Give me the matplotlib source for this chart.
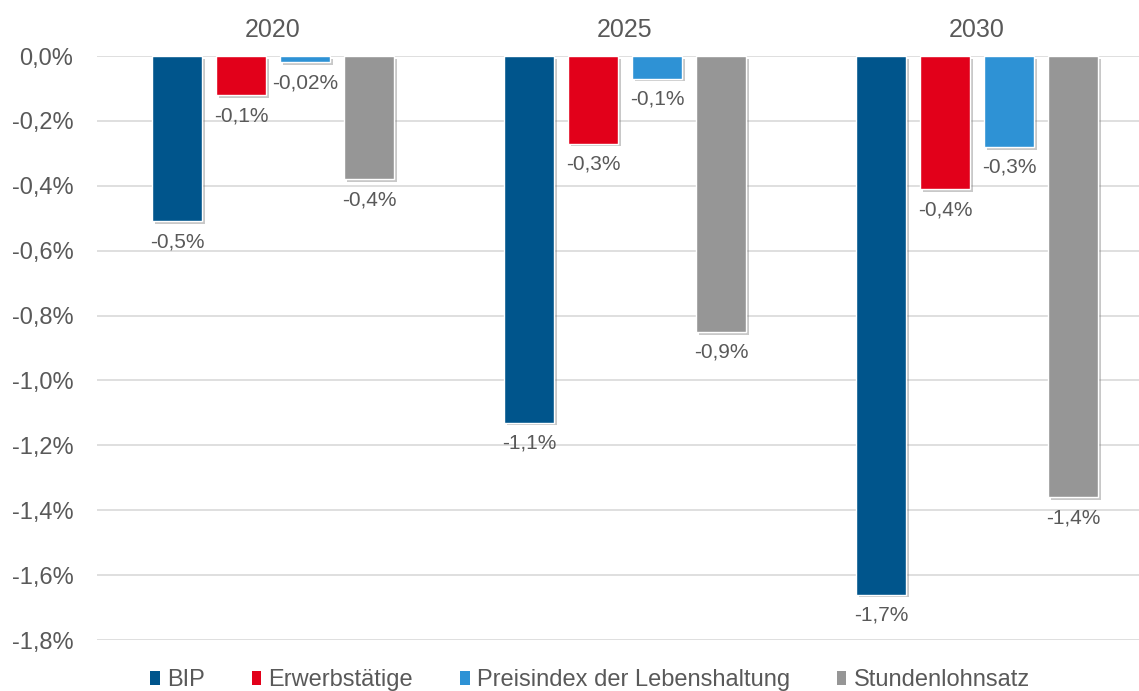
import numpy as np
import matplotlib.pyplot as plt
import matplotlib.patheffects as pe
from matplotlib.patches import Patch

plt.rcParams['font.family'] = ['Liberation Sans', 'DejaVu Sans']

# Data
years = ['2020', '2025', '2030']
series = ['BIP', 'Erwerbstätige', 'Preisindex der Lebenshaltung', 'Stundenlohnsatz']
bip = [-0.51, -1.13, -1.66]
erwerb = [-0.12, -0.27, -0.41]
preis = [-0.02, -0.07, -0.28]
lohn = [-0.38, -0.85, -1.36]
bip_labels = ['-0,5%', '-1,1%', '-1,7%']
erwerb_labels = ['-0,1%', '-0,3%', '-0,4%']
preis_labels = ['-0,02%', '-0,1%', '-0,3%']
lohn_labels = ['-0,4%', '-0,9%', '-1,4%']
colors = ['#00558C', '#E2001A', '#2E92D5', '#969696']
text_color = '#595959'

values = [bip, erwerb, preis, lohn]
labels = [bip_labels, erwerb_labels, preis_labels, lohn_labels]

fig = plt.figure(figsize=(11.39, 6.91), dpi=100)
ax = fig.add_axes([97 / 1139, 51 / 691, 1 - 97 / 1139, 584 / 691])

x = np.arange(len(years))
step = 0.182
width = 0.142
shadow = [pe.SimplePatchShadow(offset=(2, -2), shadow_rgbFace='#777777', alpha=0.4), pe.Normal()]

for i, (vals, labs) in enumerate(zip(values, labels)):
    pos = x + (i - 1.5) * step
    bars = ax.bar(pos, vals, width, color=colors[i], edgecolor='white', linewidth=1, zorder=3)
    for b in bars:
        b.set_path_effects(shadow)
    for p, v, t in zip(pos, vals, labs):
        ax.annotate(t, (p, v), xytext=(0, -8), textcoords='offset points',
                    ha='center', va='top', fontsize=15, color=text_color)

ax.set_ylim(-1.8, 0)
ax.set_xlim(-0.5, 2.5 - 14 / 352)
yt = np.arange(-1.8, 0.01, 0.2)
ax.set_yticks(yt)
ax.set_yticklabels([('%.1f%%' % v).replace('.', ',').replace('-0,0', '0,0') for v in yt])
ax.xaxis.tick_top()
ax.set_xticks(x)
ax.set_xticklabels(years)
ax.tick_params(length=0, labelsize=17, colors=text_color)
ax.tick_params(axis='x', pad=10, labelsize=18)
ax.tick_params(axis='y', pad=17)
ax.grid(axis='y', color='#d9d9d9', linewidth=1.2, zorder=0)
ax.set_axisbelow(True)
for s in ax.spines.values():
    s.set_visible(False)

handles = [Patch(facecolor=c, edgecolor='none') for c in colors]
leg = fig.legend(handles, series, loc='center', bbox_to_anchor=(590 / 1139, 11 / 691), ncol=4,
                 frameon=False, fontsize=17, handlelength=0.4, handleheight=0.55,
                 handletextpad=0.3, columnspacing=2.0)
for t in leg.get_texts():
    t.set_color(text_color)

fig.savefig('out.png', dpi=100)
